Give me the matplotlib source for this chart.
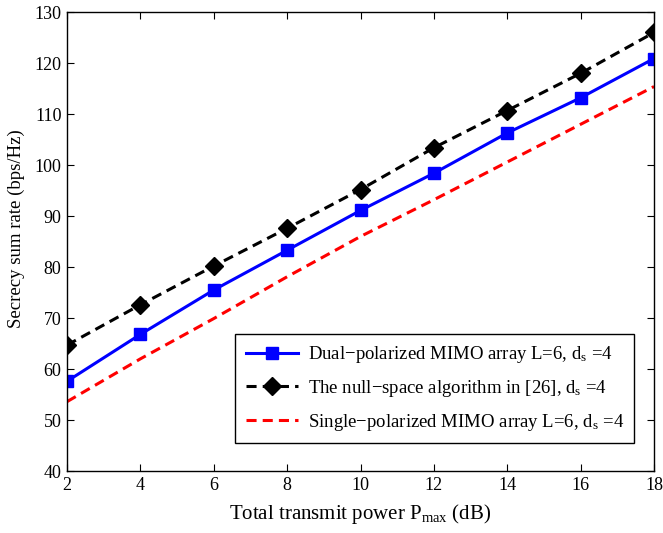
import matplotlib
matplotlib.use('Agg')
import matplotlib.pyplot as plt

plt.rcParams['font.family'] = ['Liberation Serif', 'DejaVu Serif']
plt.rcParams['mathtext.fontset'] = 'custom'
plt.rcParams['mathtext.rm'] = 'Liberation Serif'
plt.rcParams['mathtext.it'] = 'Liberation Serif'
plt.rcParams['mathtext.default'] = 'regular'

# transmit power (dB)
power = [2, 4, 6, 8, 10, 12, 14, 16, 18]

dual_pol = [57.6, 66.8, 75.5, 83.3, 91.1, 98.4, 106.3, 113.2, 120.9]
null_space = [64.7, 72.6, 80.2, 87.6, 95.2, 103.4, 110.7, 118.0, 126.0]
single_pol = [53.6, 62.0, 69.9, 78.1, 86.0, 93.2, 100.6, 108.0, 115.4]

labels = ['Dual\u2212polarized MIMO array L=6, d$_{s}$ =4',
          'The null\u2212space algorithm in [26], d$_{s}$ =4',
          'Single\u2212polarized MIMO array L=6, d$_{s}$ =4']

fig = plt.figure(figsize=(6.63, 5.33), dpi=100)
ax = fig.add_axes([0.1011, 0.1163, 0.8854, 0.861])

ax.plot(power, dual_pol, '-s', color='#0000ff', lw=2.2, ms=9,
        mec='#0000ff', mfc='#0000ff', label=labels[0])
ax.plot(power, null_space, '--D', color='k', lw=2.2, ms=9,
        dashes=(3.3, 2.0), label=labels[1])
ax.plot(power, single_pol, '--', color='#ff0000', lw=2.2,
        dashes=(3.3, 2.0), label=labels[2])

ax.set_xlim(2, 18)
ax.set_ylim(40, 130)
ax.set_xticks(range(2, 19, 2))
ax.set_yticks(range(40, 131, 10))
ax.tick_params(direction='in', top=True, right=True, labelsize=13, length=5, pad=4)
for s in ax.spines.values():
    s.set_linewidth(1.0)

ax.set_xlabel('Total transmit power P$_{max}$ (dB)', fontsize=15, labelpad=6)
ax.set_ylabel('Secrecy sum rate (bps/Hz)', fontsize=13.5)
ax.yaxis.set_label_coords(-0.071, 0.529)

leg = ax.legend(loc='lower right', bbox_to_anchor=(0.966, 0.061), fontsize=13.5,
                fancybox=False, framealpha=1, edgecolor='k',
                handlelength=2.8, handletextpad=0.5, borderpad=0.55,
                labelspacing=0.68, borderaxespad=0)
leg.get_frame().set_linewidth(1.0)

fig.savefig('out.png', dpi=100)
